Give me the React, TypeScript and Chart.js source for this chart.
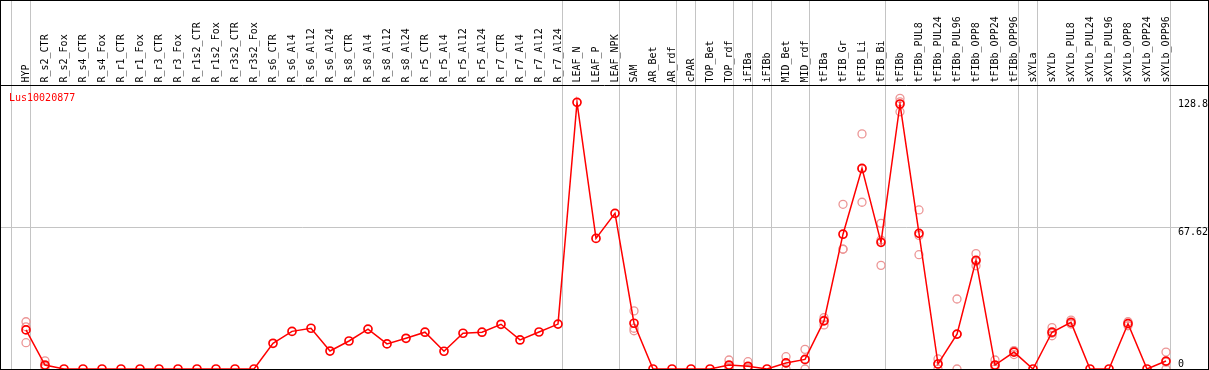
import React, { useEffect, useRef } from "react";
import { Chart, registerables } from "chart.js";

Chart.register(...registerables);

const geneTitle = "Lus10020877";

const categories = [
  "HYP", "R_s2_CTR", "R_s2_Fox", "R_s4_CTR", "R_s4_Fox", "R_r1_CTR", "R_r1_Fox", "R_r3_CTR", "R_r3_Fox",
  "R_r1s2_CTR", "R_r1s2_Fox", "R_r3s2_CTR", "R_r3s2_Fox", "R_s6_CTR", "R_s6_Al4", "R_s6_Al12", "R_s6_Al24",
  "R_s8_CTR", "R_s8_Al4", "R_s8_Al12", "R_s8_Al24", "R_r5_CTR", "R_r5_Al4", "R_r5_Al12", "R_r5_Al24",
  "R_r7_CTR", "R_r7_Al4", "R_r7_Al12", "R_r7_Al24", "LEAF_N", "LEAF_P", "LEAF_NPK", "SAM", "AR_Bet", "AR_rdf",
  "cPAR", "TOP_Bet", "TOP_rdf", "iFIBa", "iFIBb", "MID_Bet", "MID_rdf", "tFIBa", "tFIB_Gr", "tFIB_Li", "tFIB_Bi",
  "tFIBb", "tFIBb_PUL8", "tFIBb_PUL24", "tFIBb_PUL96", "tFIBb_OPP8", "tFIBb_OPP24", "tFIBb_OPP96", "sXYLa",
  "sXYLb", "sXYLb_PUL8", "sXYLb_PUL24", "sXYLb_PUL96", "sXYLb_OPP8", "sXYLb_OPP24", "sXYLb_OPP96",
];

const meanValues = [
  18.7, 1.9, 0, 0, 0, 0, 0, 0, 0, 0, 0, 0, 0, 12.3, 18.0, 19.5, 8.6,
  13.4, 19.1, 12.0, 14.7, 17.6, 8.5, 17.1, 17.6,
  21.4, 13.9, 17.7, 21.5, 127.6, 62.5, 74.5, 21.9, 0, 0,
  0, 0, 1.9, 1.3, 0, 2.9, 4.6, 23.0, 64.5, 96.0, 60.6,
  126.8, 64.9, 2.4, 16.7, 52.0, 1.9, 8.1, 0,
  17.6, 22.3, 0, 0, 21.7, 0, 3.8,
];

const rep1 = [
  22.6, 3.9, null, null, null, null, null, null, null, null, null, null, null, null, null, null, null,
  null, null, null, null, null, null, null, null,
  null, null, null, null, null, null, null, 27.8, null, null,
  null, null, 4.3, 3.5, null, 5.9, 9.4, 24.6, 78.8, 112.5, 69.7,
  129.5, 76.1, 4.8, 33.5, 55.2, 4.3, 8.8, null,
  19.8, 23.4, null, null, 22.6, null, 8.1,
];

const rep2 = [
  20.2, 1.3, null, null, null, null, null, null, null, null, null, null, null, null, null, null, null,
  null, null, null, null, null, null, null, null,
  null, null, null, null, null, null, null, 19.5, null, null,
  null, null, 1.0, 0.4, null, 2.8, 4.4, 23.4, 57.3, 95.8, 61.7,
  123.1, 54.7, 2.4, 16.6, 49.4, 1.4, 6.9, null,
  15.9, 22.0, null, null, 20.7, null, 3.3,
];

const rep3 = [
  12.6, 0.4, null, null, null, null, null, null, null, null, null, null, null, null, null, null, null,
  null, null, null, null, null, null, null, null,
  null, null, null, null, null, null, null, 18.3, null, null,
  null, null, 0.4, 0, null, 0, 0, 21.1, 57.4, 79.8, 49.6,
  127.8, 63.9, 0, 0, 51.4, 0, 8.6, null,
  17.1, 21.5, null, null, 21.8, null, 0,
];

const yTickValues = [0, 67.62, 128.8];
const yTickLabels = ["0", "67.62", "128.8"];
const yGridValues = [67.62];
const yMax = 135.9;

// index of the last category of each group (-1 = before the first)
const groupEnds = [-1, 0, 28, 31, 34, 35, 37, 38, 39, 41, 45, 52, 53, 60];

const W = 1209;
const H = 370;
const FONT = '10px "DejaVu Sans Mono", monospace';
const MEAN_COLOR = "#ff0000";
const REP_COLOR = "rgb(236,150,150)";

const framePlugin = {
  id: "frame",
  beforeDraw(chart: any) {
    const { ctx } = chart;
    ctx.save();
    ctx.fillStyle = "#ffffff";
    ctx.fillRect(0, 0, chart.width, chart.height);
    ctx.restore();
  },
  beforeDatasetsDraw(chart: any) {
    const { ctx, scales } = chart;
    const x = scales.x;
    const y = scales.y;
    const step = x.getPixelForValue(1) - x.getPixelForValue(0);
    ctx.save();
    ctx.strokeStyle = "#c4c4c4";
    ctx.lineWidth = 1;
    for (const g of groupEnds) {
      const px = Math.floor(x.getPixelForValue(g) + step / 4) + 0.5;
      ctx.beginPath();
      ctx.moveTo(px, 0);
      ctx.lineTo(px, chart.height);
      ctx.stroke();
    }
    for (const v of yGridValues) {
      const py = Math.floor(y.getPixelForValue(v)) + 0.5;
      ctx.beginPath();
      ctx.moveTo(0, py);
      ctx.lineTo(chart.width, py);
      ctx.stroke();
    }
    ctx.restore();
  },
  afterDatasetsDraw(chart: any) {
    const { ctx, chartArea } = chart;
    ctx.save();
    ctx.strokeStyle = "#000000";
    ctx.lineWidth = 1;
    ctx.strokeRect(0.5, 0.5, chart.width - 1, chart.height - 1);
    ctx.beginPath();
    ctx.moveTo(0, chartArea.top + 0.5);
    ctx.lineTo(chart.width, chartArea.top + 0.5);
    ctx.stroke();
    ctx.restore();
  },
  afterDraw(chart: any) {
    const { ctx, scales, chartArea } = chart;
    const x = scales.x;
    const y = scales.y;
    ctx.save();
    ctx.font = FONT;
    ctx.fillStyle = "#000000";
    // category labels (rotated, reading upward)
    categories.forEach((label, i) => {
      const px = x.getPixelForValue(i);
      ctx.save();
      ctx.translate(px, chartArea.top - 2.5);
      ctx.rotate(-Math.PI / 2);
      ctx.textAlign = "left";
      ctx.textBaseline = "middle";
      ctx.fillText(label, 0, 0);
      ctx.restore();
    });
    // value labels on the right
    ctx.textAlign = "left";
    yTickValues.forEach((v, i) => {
      const py = y.getPixelForValue(v);
      ctx.textBaseline = v === 0 ? "bottom" : "top";
      ctx.fillText(yTickLabels[i], chartArea.right + 2.5, py);
    });
    // gene title
    ctx.fillStyle = MEAN_COLOR;
    ctx.textBaseline = "alphabetic";
    ctx.fillText(geneTitle, 9, chartArea.top + 16);
    ctx.restore();
  },
};

const repDataset = (data: (number | null)[]) => ({
  data,
  showLine: false,
  borderColor: REP_COLOR,
  backgroundColor: "rgba(0,0,0,0)",
  pointRadius: 4,
  pointHoverRadius: 4,
  pointBorderWidth: 1.3,
  pointBorderColor: REP_COLOR,
  pointBackgroundColor: "rgba(0,0,0,0)",
});

export default function App() {
  const ref = useRef<HTMLCanvasElement>(null);

  useEffect(() => {
    document.body.style.margin = "0";
    const canvas = ref.current;
    if (!canvas) return;
    const chart = new Chart(canvas, {
      type: "line",
      data: {
        labels: categories,
        datasets: [
          {
            data: meanValues,
            borderColor: MEAN_COLOR,
            borderWidth: 1.5,
            backgroundColor: "rgba(0,0,0,0)",
            pointRadius: 4,
            pointHoverRadius: 4,
            pointBorderWidth: 1.7,
            pointBorderColor: MEAN_COLOR,
            pointBackgroundColor: "rgba(0,0,0,0)",
            tension: 0,
          },
          repDataset(rep1),
          repDataset(rep2),
          repDataset(rep3),
        ],
      },
      options: {
        responsive: false,
        animation: false,
        devicePixelRatio: 1,
        layout: { autoPadding: false, padding: { left: 16.5, right: 33.5, top: 85, bottom: 1 } },
        plugins: {
          legend: { display: false },
          tooltip: { enabled: false },
          title: { display: false },
        },
        scales: {
          x: { type: "category", display: false, offset: true },
          y: { display: false, min: 0, max: yMax },
        },
      },
      plugins: [framePlugin],
    } as any);
    return () => chart.destroy();
  }, []);

  return (
    <div style={{ width: W, height: H }}>
      <canvas ref={ref} width={W} height={H} style={{ display: "block" }} />
    </div>
  );
}
